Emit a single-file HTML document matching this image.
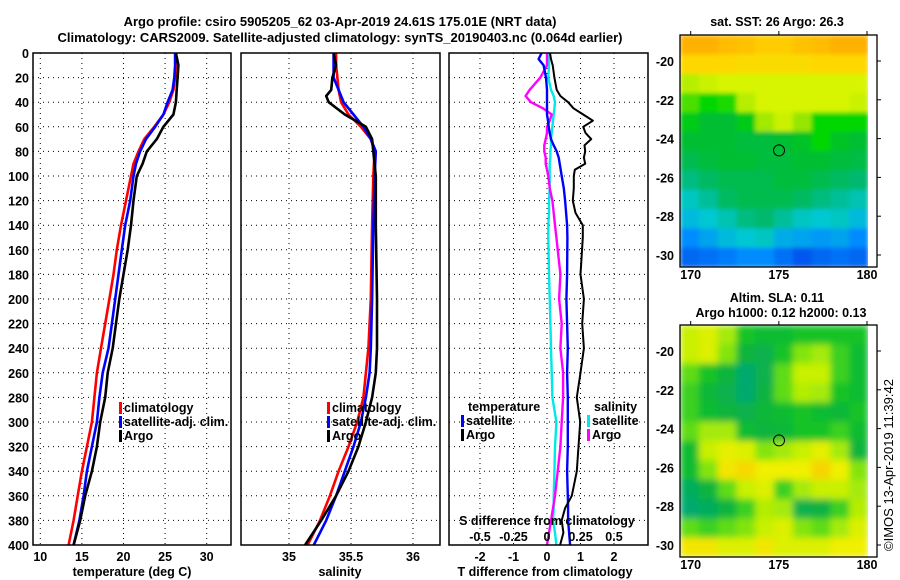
<!DOCTYPE html>
<html><head><meta charset="utf-8"><style>
html,body{margin:0;padding:0;background:#fff;}
svg{display:block;font-family:"Liberation Sans",Arial,sans-serif;}
.b{font-weight:bold;font-size:13px;}
.t{font-weight:bold;font-size:12.5px;}
</style></head><body>
<svg id="fig" width="900" height="580" viewBox="0 0 900 580" xmlns="http://www.w3.org/2000/svg">
<defs>
<filter id="blurS" x="0" y="0" width="1" height="1"><feGaussianBlur stdDeviation="2" edgeMode="duplicate"/></filter>
<filter id="blurH" x="0" y="0" width="1" height="1"><feGaussianBlur stdDeviation="3.5" edgeMode="duplicate"/></filter>
<clipPath id="c1"><rect x="33" y="53" width="198" height="492"/></clipPath>
<clipPath id="c2"><rect x="241" y="53" width="199" height="492"/></clipPath>
<clipPath id="c3"><rect x="449" y="53" width="199" height="492"/></clipPath>
<clipPath id="m1"><rect x="680" y="35" width="188" height="232"/></clipPath>
<clipPath id="m2"><rect x="680" y="325" width="188" height="232"/></clipPath>
</defs>
<text class="b" x="340" y="26" text-anchor="middle">Argo profile: csiro 5905205_62 03-Apr-2019 24.61S 175.01E (NRT data)</text>
<text class="b" x="340" y="42" text-anchor="middle">Climatology: CARS2009. Satellite-adjusted climatology: synTS_20190403.nc (0.064d earlier)</text>
<g id="g"></g>
</svg>
<script>
// ---------- data ----------
const depthT = [0,10,20,30,40,50,60,70,80,90,100,120,140,160,180,200,220,240,260,280,300,320,340,360,380,400];
const tempClim = [26.3,26.3,26.2,26.0,25.5,24.8,23.7,22.5,21.8,21.2,20.9,20.3,19.7,19.2,18.8,18.3,17.8,17.3,16.8,16.5,16.2,15.6,15.0,14.5,14.0,13.4];
const tempSat  = [26.2,26.2,26.1,25.9,25.3,24.8,23.8,22.7,22.0,21.5,21.2,20.8,20.2,19.8,19.4,19.0,18.6,18.2,17.5,17.1,16.8,16.2,15.6,15.2,14.7,14.0];
const tempArgo = [26.3,26.6,26.5,26.4,26.3,26.0,24.8,24.0,22.8,22.3,21.6,21.2,20.9,20.5,20.0,19.5,19.1,18.7,18.1,17.8,17.2,16.8,16.2,15.4,14.8,14.0];
const depthS = [0,10,20,30,35,40,50,60,70,80,100,140,200,240,260,280,300,320,340,360,380,400];
const salClim = [35.38,35.38,35.39,35.40,35.41,35.42,35.48,35.58,35.66,35.69,35.68,35.67,35.66,35.64,35.62,35.60,35.55,35.48,35.40,35.33,35.25,35.15];
const salSat  = [35.36,35.36,35.36,35.40,35.42,35.44,35.52,35.60,35.66,35.70,35.69,35.68,35.67,35.66,35.65,35.62,35.58,35.52,35.45,35.38,35.30,35.20];
const salArgo = [35.36,35.38,35.35,35.34,35.30,35.32,35.45,35.62,35.67,35.68,35.70,35.70,35.71,35.71,35.70,35.67,35.62,35.56,35.48,35.38,35.26,35.13];
const depthD = [0,5,10,20,30,35,40,45,50,55,60,65,70,75,80,85,90,95,100,110,120,130,140,150,180,200,220,240,260,280,300,320,340,360,370,380,390,400];
const dTsat  = [-0.16,-0.25,-0.10,-0.03,0,0,0,0,0,0.03,0.05,0.08,0.12,0.2,0.29,0.35,0.38,0.41,0.44,0.5,0.54,0.57,0.6,0.61,0.6,0.58,0.6,0.62,0.6,0.62,0.62,0.62,0.6,0.62,0.63,0.63,0.66,0.69];
const dTargo = [0.09,0.12,0.17,0.22,0.29,0.4,0.63,0.79,1.08,1.37,1.08,1.15,1.32,1.12,1.14,1.1,1.14,0.83,0.8,0.8,0.77,0.85,1.07,1.07,1.0,1.1,1.05,1.1,1.0,0.89,0.99,0.94,0.89,0.74,0.54,0.44,0.49,0.39];
const dSargo = [0,0,0,-0.05,-0.13,-0.16,-0.12,-0.03,0.035,0.02,0,0,-0.01,-0.02,-0.02,-0.01,-0.01,0,0.01,0.02,0.04,0.05,0.06,0.07,0.1,0.09,0.11,0.1,0.12,0.12,0.11,0.1,0.08,0.06,0.045,0.03,0.015,0];
const dSsat  = [0.02,0.015,0.015,0.01,0.03,0.05,0.06,0.055,0.05,0.045,0.04,0.035,0.03,0.03,0.025,0.025,0.02,0.02,0.02,0.02,0.015,0.015,0.01,0.01,0.015,0.02,0.025,0.03,0.035,0.04,0.07,0.06,0.055,0.05,0.05,0.045,0.06,0.07];
const depthTicks = [0,20,40,60,80,100,120,140,160,180,200,220,240,260,280,300,320,340,360,380,400];
const tempTicks = [10,15,20,25,30];
const salTicks = [35,35.5,36];
const salTickLabels = ["35","35.5","36"];
const dTTicks = [-2,-1,0,1,2];
const dSTicks = [-0.5,-0.25,0,0.25,0.5];
const dSTickLabels = ["-0.5","-0.25","0","0.25","0.5"];
const lonTicks = [170,175,180];
const latTicks = [-20,-22,-24,-26,-28,-30];
// map grids: 12 rows (north->south) x 10 cols (west->east), normalised colour level
const sstGrid = [
[0.95,0.95,0.93,0.92,0.9,0.9,0.92,0.93,0.95,0.95],
[0.88,0.88,0.88,0.87,0.87,0.87,0.87,0.88,0.88,0.88],
[0.75,0.78,0.8,0.8,0.8,0.8,0.8,0.8,0.8,0.8],
[0.65,0.6,0.62,0.75,0.8,0.8,0.8,0.8,0.8,0.78],
[0.55,0.5,0.5,0.55,0.72,0.78,0.7,0.6,0.6,0.6],
[0.5,0.5,0.5,0.48,0.48,0.5,0.52,0.6,0.52,0.5],
[0.45,0.48,0.5,0.5,0.48,0.48,0.5,0.5,0.48,0.47],
[0.38,0.42,0.45,0.45,0.45,0.48,0.48,0.45,0.42,0.4],
[0.3,0.35,0.42,0.45,0.45,0.45,0.42,0.38,0.35,0.32],
[0.25,0.28,0.32,0.38,0.4,0.35,0.3,0.28,0.3,0.25],
[0.15,0.2,0.25,0.28,0.3,0.22,0.2,0.18,0.2,0.15],
[0.08,0.1,0.12,0.15,0.15,0.1,0.05,0.08,0.1,0.08]];
const slaGrid = [
[0.75,0.8,0.7,0.5,0.45,0.45,0.5,0.5,0.5,0.5],
[0.75,0.8,0.65,0.4,0.35,0.5,0.65,0.7,0.55,0.45],
[0.6,0.5,0.4,0.25,0.35,0.6,0.75,0.75,0.55,0.45],
[0.55,0.42,0.35,0.25,0.38,0.6,0.72,0.7,0.5,0.45],
[0.55,0.45,0.4,0.35,0.42,0.45,0.5,0.45,0.42,0.5],
[0.6,0.7,0.7,0.45,0.4,0.42,0.5,0.5,0.55,0.45],
[0.45,0.75,0.82,0.8,0.65,0.7,0.75,0.82,0.7,0.4],
[0.45,0.65,0.88,0.92,0.85,0.85,0.85,0.93,0.85,0.65],
[0.3,0.4,0.6,0.75,0.8,0.55,0.7,0.75,0.75,0.7],
[0.25,0.3,0.4,0.55,0.72,0.7,0.35,0.38,0.55,0.72],
[0.6,0.55,0.6,0.65,0.75,0.8,0.65,0.6,0.7,0.8],
[0.88,0.88,0.8,0.8,0.88,0.8,0.8,0.8,0.85,0.85]];
const argoLon = 175.01, argoLat = -24.61;

// ---------- helpers ----------
const NS="http://www.w3.org/2000/svg";
const G=document.getElementById('g');
function el(t,a,p){const e=document.createElementNS(NS,t);for(const k in a)e.setAttribute(k,a[k]);(p||G).appendChild(e);return e;}
function txt(x,y,s,a,p){const e=el('text',Object.assign({x:x,y:y,class:'t'},a||{}),p);e.textContent=s;return e;}
const yD = d => 53 + d*1.23;
const xT = v => 40.3 + (v-10)*8.32;
const xS = v => 289 + (v-35)*124;
const xDT = v => 547 + v*33.5;
const xDS = v => 547 + v*134;

function panel(x0,w,name){
  const g=el('g',{});
  
  
  return g;
}
function hgrid(g,x0,x1){
  depthTicks.forEach(d=>{ if(d>0&&d<400){const l=el('line',{x1:x0,x2:x1,y1:yD(d),y2:yD(d),stroke:'#000','stroke-width':1,'stroke-dasharray':'1,4'},g);
  
  }});
}
function vgrid(g,xs){
  xs.forEach(x=>{const l=el('line',{x1:x,x2:x,y1:53,y2:545,stroke:'#000','stroke-width':1,'stroke-dasharray':'1,4'},g);
  
  });
}
function frame(g,x0,w){
  const r=el('rect',{x:x0,y:53,width:w,height:492,fill:'none',stroke:'#000','stroke-width':1.5},g);
  
  
}
function line(g,xs,ys,fx,color,sw,clip,name){
  const pts=xs.map((v,i)=>fx(v).toFixed(1)+','+yD(ys[i]).toFixed(1)).join(' ');
  const p=el('polyline',{points:pts,fill:'none',stroke:color,'stroke-width':sw,'stroke-linejoin':'round','clip-path':'url(#'+clip+')'},g);
  
  
}
function legend(g,x,y,label,color,name){
  const r=el('rect',{x:x,y:y-10,width:3,height:12,fill:color},g);
  
  
  const t=txt(x+5,y,label,{},g);
  
  
}

// ---------- panel 1: temperature ----------
let g1=panel(33,198,'temperature-panel');
hgrid(g1,33,231); vgrid(g1,tempTicks.map(xT));
line(g1,tempClim,depthT,xT,'#f00',2.6,'c1','temperature-climatology-line');
line(g1,tempSat,depthT,xT,'#00f',2.6,'c1','temperature-satellite-line');
line(g1,tempArgo,depthT,xT,'#000',2.6,'c1','temperature-argo-line');
frame(g1,33,198);
depthTicks.forEach(d=>{const t=txt(29,yD(d)+5,String(d),{'text-anchor':'end'},g1);
 
 });
tempTicks.forEach(v=>{const t=txt(xT(v),561,String(v),{'text-anchor':'middle'},g1);
 
 });
let a1=txt(132,576,'temperature (deg C)',{'text-anchor':'middle'},g1);


legend(g1,119,412,'climatology','#f00','legend-climatology');
legend(g1,119,426,'satellite-adj. clim.','#00f','legend-satellite-adj');
legend(g1,119,440,'Argo','#000','legend-argo');

// ---------- panel 2: salinity ----------
let g2=panel(241,199,'salinity-panel');
hgrid(g2,241,440); vgrid(g2,salTicks.map(xS));
line(g2,salClim,depthS,xS,'#f00',2.6,'c2','salinity-climatology-line');
line(g2,salSat,depthS,xS,'#00f',2.6,'c2','salinity-satellite-line');
line(g2,salArgo,depthS,xS,'#000',2.6,'c2','salinity-argo-line');
frame(g2,241,199);
salTicks.forEach((v,i)=>{const t=txt(xS(v),561,salTickLabels[i],{'text-anchor':'middle'},g2);
 
 });
let a2=txt(340,576,'salinity',{'text-anchor':'middle'},g2);


legend(g2,327,412,'climatology','#f00','legend2-climatology');
legend(g2,327,426,'satellite-adj. clim.','#00f','legend2-satellite-adj');
legend(g2,327,440,'Argo','#000','legend2-argo');

// ---------- panel 3: differences ----------
let g3=panel(449,199,'difference-panel');
hgrid(g3,449,648); vgrid(g3,dTTicks.map(xDT));
line(g3,dSsat,depthD,xDS,'#00e8e8',2.4,'c3','salinity-satellite-diff-line');
line(g3,dSargo,depthD,xDS,'#f0f',2.4,'c3','salinity-argo-diff-line');
line(g3,dTsat,depthD,xDT,'#00f',2.4,'c3','temperature-satellite-diff-line');
line(g3,dTargo,depthD,xDT,'#000',2,'c3','temperature-argo-diff-line');
frame(g3,449,199);
dTTicks.forEach(v=>{const t=txt(xDT(v),561,String(v),{'text-anchor':'middle'},g3);
 
 });
dSTicks.forEach((v,i)=>{const t=txt(xDS(v),541,dSTickLabels[i],{'text-anchor':'middle'},g3);
 
 });
let a3=txt(547,525,'S difference from climatology',{'text-anchor':'middle'},g3);


let a4=txt(545,576,'T difference from climatology',{'text-anchor':'middle'},g3);


let lt=txt(468,411,'temperature',{},g3);


legend(g3,461,425,'satellite','#00f','legend-t-satellite');
legend(g3,461,439,'Argo','#000','legend-t-argo');
let ls=txt(594,411,'salinity',{},g3);


legend(g3,587,425,'satellite','#00e8e8','legend-s-satellite');
legend(g3,587,439,'Argo','#f0f','legend-s-argo');

// ---------- maps ----------
function interp(stops,v){
  v=Math.max(0,Math.min(1,v));
  for(let i=1;i<stops.length;i++){ if(v<=stops[i][0]){const a=stops[i-1],b=stops[i],f=(v-a[0])/(b[0]-a[0]||1);
    return 'rgb('+[1,2,3].map(k=>Math.round(a[k]+(b[k]-a[k])*f)).join(',')+')';}}
  const l=stops[stops.length-1];return 'rgb('+l[1]+','+l[2]+','+l[3]+')';
}
const sstStops=[[0,0,60,230],[0.15,0,140,255],[0.28,0,200,210],[0.4,0,185,110],[0.5,0,190,50],[0.6,0,215,0],[0.7,150,230,0],[0.8,215,245,0],[0.88,255,215,0],[1,255,150,0]];
const slaStops=[[0,0,160,140],[0.25,0,170,110],[0.4,10,180,60],[0.5,20,195,40],[0.62,110,225,20],[0.75,200,240,0],[0.85,240,240,0],[1,250,190,0]];
const lonX = lon => 690.7 + (lon-170)*17.63;
const latY = (lat,off) => 61 + off + (-20-lat)*19.4;
function mapPanel(grid,stops,off,clip,filt,name,t1,t2){
  const g=panel(680,197,name);
  const cg=el('g',{'clip-path':'url(#'+clip+')'},g);
  const ig=el('g',{filter:'url(#'+filt+')'},cg);
  const rows=grid.length, cols=grid[0].length, cw=188/cols, ch=232/rows;
  grid.forEach((row,r)=>row.forEach((v,c)=>{
    const rc=el('rect',{x:(680+c*cw).toFixed(2),y:(35+off+r*ch).toFixed(2),width:(cw+0.6).toFixed(2),height:(ch+0.6).toFixed(2),fill:interp(stops,v)},ig);
    
    
  }));
  const fr=el('rect',{x:680,y:35+off,width:197,height:232,fill:'none',stroke:'#000','stroke-width':1.3},g);
  
  
  lonTicks.forEach(lon=>{
    el('line',{x1:lonX(lon),x2:lonX(lon),y1:35+off,y2:31+off,stroke:'#000'},g);
    const t=txt(lonX(lon),279+off,String(lon),{'text-anchor':'middle'},g);
    
    
  });
  latTicks.forEach(lat=>{
    el('line',{x1:877,x2:881,y1:latY(lat,off),y2:latY(lat,off),stroke:'#000'},g);
    const t=txt(674,latY(lat,off)+5,String(lat),{'text-anchor':'end'},g);
    
    
  });
  const ci=el('circle',{cx:lonX(argoLon),cy:latY(argoLat,off),r:5.5,fill:'none',stroke:'#000','stroke-width':1},g);
  
  
  const tt=txt(777,t1[1],t1[0],{'text-anchor':'middle'},g);
  
  
  if(t2){const t3=txt(781,t2[1],t2[0],{'text-anchor':'middle'},g);
  
  }
}
mapPanel(sstGrid,sstStops,0,'m1','blurS','sst-map',['sat. SST: 26 Argo: 26.3',26]);
mapPanel(slaGrid,slaStops,290,'m2','blurH','sla-map',['Altim. SLA: 0.11',302],['Argo h1000: 0.12 h2000: 0.13',317]);
const cp=txt(0,0,'©IMOS 13-Apr-2019 11:39:42',{'text-anchor':'middle',transform:'translate(893,465) rotate(-90)',style:'font-weight:normal;font-size:13px'});


</script>
</body></html>
